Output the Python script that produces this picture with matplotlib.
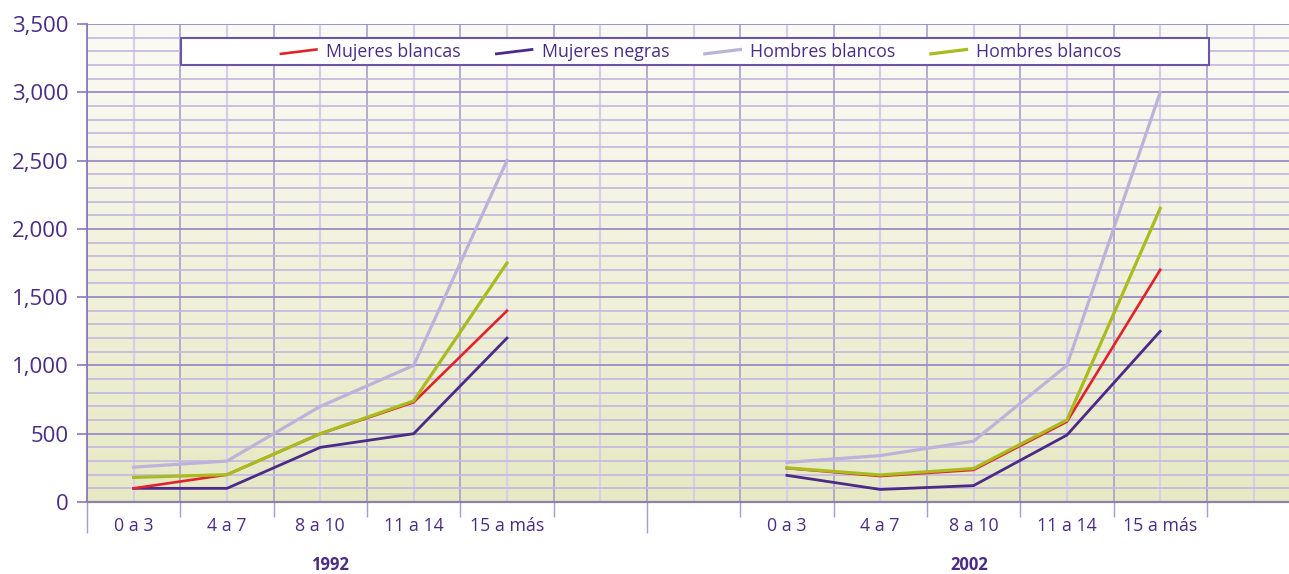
import numpy as np
import matplotlib
matplotlib.use("Agg")
import matplotlib.pyplot as plt
from matplotlib.lines import Line2D
from matplotlib.legend_handler import HandlerBase
from matplotlib.patches import Rectangle
from matplotlib.ticker import FuncFormatter, FixedLocator
import matplotlib.transforms as mtransforms

plt.rcParams['font.family'] = ['Open Sans', 'DejaVu Sans']

# data
categories = ["0 a 3", "4 a 7", "8 a 10", "11 a 14", "15 a más"]
years = ["1992", "2002"]
series_names = ["Mujeres blancas", "Mujeres negras", "Hombres blancos", "Hombres blancos"]

mujeres_blancas_1992 = [100, 200, 500, 730, 1400]
mujeres_negras_1992 = [100, 100, 400, 500, 1200]
hombres_blancos_1992 = [255, 300, 700, 1000, 2500]
hombres_blancos2_1992 = [180, 200, 500, 740, 1750]

mujeres_blancas_2002 = [248, 190, 235, 588, 1700]
mujeres_negras_2002 = [195, 92, 120, 490, 1250]
hombres_blancos_2002 = [290, 340, 445, 1000, 3000]
hombres_blancos2_2002 = [250, 198, 245, 600, 2150]

TEXT = "#4a2c86"
colors = ["#e2222b", "#4b2a88", "#bdb2da", "#a9bb1e"]
widths = [1.9, 2.0, 2.3, 2.3]

x_1992 = np.arange(0, 5)
x_2002 = np.arange(7, 12)

series_1992 = [mujeres_blancas_1992, mujeres_negras_1992, hombres_blancos_1992, hombres_blancos2_1992]
series_2002 = [mujeres_blancas_2002, mujeres_negras_2002, hombres_blancos_2002, hombres_blancos2_2002]


class SlantHandler(HandlerBase):
    # short, slightly rising legend strokes like the original
    def create_artists(self, legend, orig_handle, xdescent, ydescent,
                       width, height, fontsize, trans):
        line = Line2D([-xdescent, width - xdescent],
                      [0.25 * height - ydescent, 0.6 * height - ydescent],
                      color=orig_handle.get_color(),
                      lw=orig_handle.get_linewidth(), transform=trans)
        return [line]


fig = plt.figure(figsize=(12.89, 5.74), dpi=100)
ax = fig.add_axes([87 / 1289, 72 / 574, 1202 / 1289, 478 / 574])

# soft vertical gradient background
grad = np.linspace(0, 1, 256)[:, None]
top = np.array([0xfb, 0xfb, 0xf6]) / 255
bot = np.array([0xe6, 0xe9, 0xc3]) / 255
img = top[None, None, :] * (1 - grad[..., None]) + bot[None, None, :] * grad[..., None]
ax.imshow(img, extent=[0, 1, 0, 1], transform=ax.transAxes, aspect='auto', zorder=-2)

order = [2, 1, 0, 3]
handles = {}
for i in order:
    ax.plot(x_1992, series_1992[i], color=colors[i], lw=widths[i], zorder=3,
            solid_joinstyle='miter')
    h, = ax.plot(x_2002, series_2002[i], color=colors[i], lw=widths[i], zorder=3,
                 solid_joinstyle='miter')
    handles[i] = h

ax.set_xlim(-0.5, 12.38)
ax.set_ylim(0, 3500)

# x axis: boundaries as major ticks, category centres as minor (labels)
bounds = np.arange(-0.5, 13, 1.0)
centres = np.arange(0, 13)
ax.xaxis.set_major_locator(FixedLocator(bounds))
ax.xaxis.set_minor_locator(FixedLocator(centres))
ax.set_xticklabels([""] * len(bounds))
labels = [""] * len(centres)
for k, c in zip(x_1992, categories):
    labels[k] = c
for k, c in zip(x_2002, categories):
    labels[k] = c
ax.set_xticklabels(labels, minor=True)
ax.tick_params(axis='x', which='major', direction='out', length=11, width=1, color="#a99bd0")
ax.tick_params(axis='x', which='minor', length=0, pad=11, labelsize=12.8, labelcolor=TEXT)
for t, b in zip(ax.xaxis.get_major_ticks(), bounds):
    if b in (-0.5, 5.5):
        t.tick1line.set_markersize(22)

# y axis
ax.yaxis.set_major_locator(FixedLocator(np.arange(0, 3501, 500)))
ax.yaxis.set_minor_locator(FixedLocator(np.arange(0, 3501, 100)))
ax.yaxis.set_major_formatter(FuncFormatter(lambda v, p: f"{v:,.0f}"))
ax.tick_params(axis='y', which='major', direction='out', length=7, width=1.2,
               color="#8a78bd", labelsize=16, labelcolor=TEXT, pad=6)
ax.tick_params(axis='y', which='minor', length=0)

ax.set_axisbelow(True)
ax.grid(axis='x', which='major', color="#a497cc", lw=1.1, zorder=-1)
ax.grid(axis='x', which='minor', color="#d6cfe7", lw=1.6, zorder=-1)
ax.grid(axis='y', which='major', color="#9a8bc6", lw=1.3, zorder=-1)
ax.grid(axis='y', which='minor', color="#c6bbdf", lw=1.3, zorder=-1)

for s in ("top", "right"):
    ax.spines[s].set_visible(False)
ax.spines["left"].set_color("#8a78bd")
ax.spines["left"].set_linewidth(1.3)
ax.spines["bottom"].set_color("#8c82a8")
ax.spines["bottom"].set_linewidth(1.6)

# year labels under each group
trans = mtransforms.blended_transform_factory(ax.transData, ax.transAxes)
ax.text(2.1, -0.132, years[0], transform=trans, ha='center', va='center',
        fontsize=12, fontweight='bold', color=TEXT)
ax.text(8.95, -0.132, years[1], transform=trans, ha='center', va='center',
        fontsize=12, fontweight='bold', color=TEXT)

# legend box
ax.add_patch(Rectangle((0.0782, 0.9142), 0.9334 - 0.0782, 0.9707 - 0.9142,
                       transform=ax.transAxes, facecolor="white",
                       edgecolor="#6d55a5", lw=1.5, zorder=4))
leg_handles = [handles[i] for i in range(4)]
leg = ax.legend(leg_handles, series_names, loc='center', bbox_to_anchor=(0.511, 0.9415),
                ncol=4, frameon=False, fontsize=12.8, handlelength=2.0,
                handletextpad=0.55, columnspacing=2.0,
                handler_map={Line2D: SlantHandler()})
leg.set_zorder(5)
for t in leg.get_texts():
    t.set_color(TEXT)

fig.savefig("out.png", dpi=100)
